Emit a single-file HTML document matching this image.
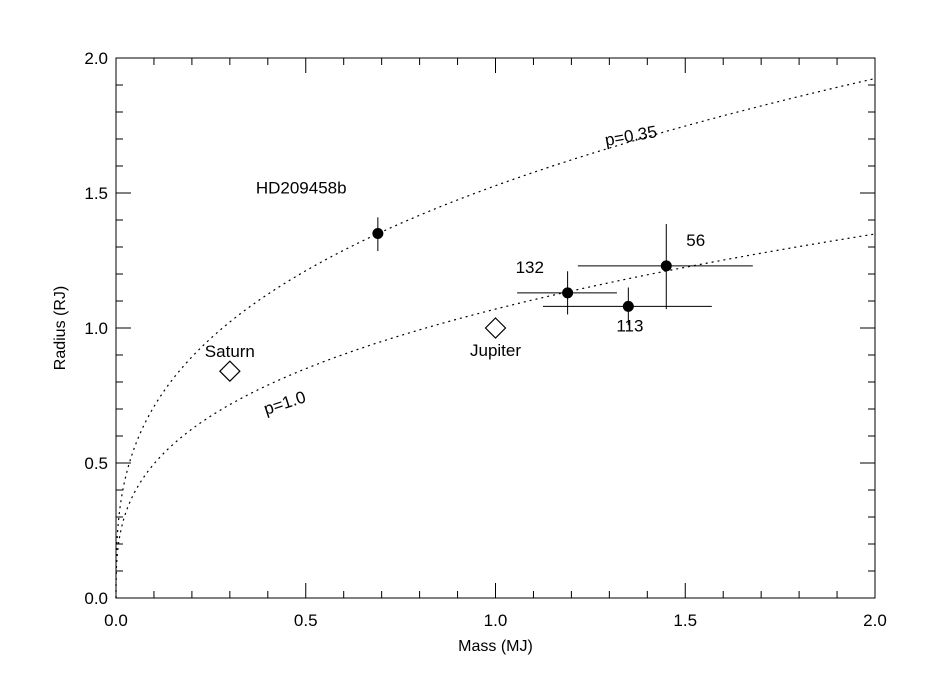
<!DOCTYPE html>
<html><head><meta charset="utf-8"><style>
body{margin:0;background:#fff}
svg text{font-family:"Liberation Sans",sans-serif;fill:#000}
</style></head><body>
<svg id="chart" width="933" height="695" viewBox="0 0 933 695" xmlns="http://www.w3.org/2000/svg">
<rect width="933" height="695" fill="#fff"/>
<g id="g"></g>
</svg>
<script>
const xTicks=[0.0,0.5,1.0,1.5,2.0];
const yTicks=[0.0,0.5,1.0,1.5,2.0];
const xTickLabels=["0.0","0.5","1.0","1.5","2.0"];
const yTickLabels=["0.0","0.5","1.0","1.5","2.0"];
const planetNames=["HD209458b","132","113","56"];
const planetMass=[0.69,1.19,1.35,1.45];
const planetRadius=[1.35,1.13,1.08,1.23];
const massLo=[0.69,1.057,1.125,1.217];
const massHi=[0.69,1.32,1.57,1.678];
const radLo=[1.285,1.05,1.01,1.07];
const radHi=[1.41,1.21,1.15,1.385];
const refNames=["Saturn","Jupiter"];
const refMass=[0.30,1.0];
const refRadius=[0.84,1.0];
const densities=[0.35,1.0];
const densityLabels=["p=0.35","p=1.0"];
const curveScale=[1.527,1.07];

const X0=116,X1=875,Y0=598,Y1=58;
const sx=v=>X0+(v-0)/(2-0)*(X1-X0);
const sy=v=>Y0-(v-0)/(2-0)*(Y0-Y1);
const g=document.getElementById('g');
const NS="http://www.w3.org/2000/svg";
function mk(t,a){const e=document.createElementNS(NS,t);for(const k in a)e.setAttribute(k,a[k]);g.appendChild(e);return e;}

let e=mk('rect',{x:X0,y:Y1,width:X1-X0,height:Y0-Y1,fill:'none',stroke:'#000','stroke-width':1});


// ticks
for(let i=0;i<=20;i++){
 const v=i*0.1, major=i%5===0, L=major?15:7;
 const x=sx(v), y=sy(v);
 let t=mk('path',{d:`M${x},${Y0}v${-L}M${x},${Y1}v${L}M${X0},${y}h${L}M${X1},${y}h${-L}`,stroke:'#000','stroke-width':1,fill:'none'});
 
 
}
xTicks.forEach((v,i)=>{const t=mk('text',{x:sx(v),y:Y0+28,'font-size':17,'text-anchor':'middle'});t.textContent=xTickLabels[i];
 
 });
yTicks.forEach((v,i)=>{const t=mk('text',{x:X0-8,y:sy(v)+6,'font-size':17,'text-anchor':'end'});t.textContent=yTickLabels[i];
 
 });
let xt=mk('text',{x:(X0+X1)/2,y:651,'font-size':16,'text-anchor':'middle'});xt.textContent='Mass (MJ)';


let yt=mk('text',{x:0,y:0,'font-size':16,'text-anchor':'middle',transform:`translate(65,${(Y0+Y1)/2}) rotate(-90)`});yt.textContent='Radius (RJ)';


// curves
densities.forEach((d,j)=>{
 let p='';
 for(let i=0;i<=400;i++){const m=2*Math.pow(i/400,2);const r=curveScale[j]*Math.cbrt(m);p+=(i?'L':'M')+sx(m).toFixed(2)+','+sy(r).toFixed(2);}
 const c=mk('path',{d:p,fill:'none',stroke:'#000','stroke-width':1.2,'stroke-dasharray':'2,4'});
 
 
});
let l1=mk('text',{x:0,y:0,'font-size':17,transform:`translate(606,146) rotate(-10)`});l1.textContent=densityLabels[0];


let l2=mk('text',{x:0,y:0,'font-size':17,transform:`translate(266,415) rotate(-18)`});l2.textContent=densityLabels[1];


// planets
const off=[[-122,-40],[-52,-20],[-12,25],[20,-20]];
planetMass.forEach((m,i)=>{
 const eb=mk('path',{d:`M${sx(massLo[i])},${sy(planetRadius[i])}H${sx(massHi[i])}M${sx(m)},${sy(radLo[i])}V${sy(radHi[i])}`,stroke:'#000','stroke-width':1});
 
 
 const c=mk('circle',{cx:sx(m),cy:sy(planetRadius[i]),r:5.5,fill:'#000'});
 
 
 const t=mk('text',{x:sx(m)+off[i][0],y:sy(planetRadius[i])+off[i][1],'font-size':17});t.textContent=planetNames[i];
 
 
});
refMass.forEach((m,i)=>{
 const x=sx(m),y=sy(refRadius[i]);
 const d=mk('path',{d:`M${x},${y-10}L${x+10},${y}L${x},${y+10}L${x-10},${y}Z`,fill:'#fff',stroke:'#000','stroke-width':1.2});
 
 
 const t=mk('text',{x:x,y:y-14,'font-size':17,'text-anchor':'middle'});t.textContent=refNames[i];
 if(i===1){t.setAttribute('y',y+28);}
 
 
});
</script>
</body></html>
